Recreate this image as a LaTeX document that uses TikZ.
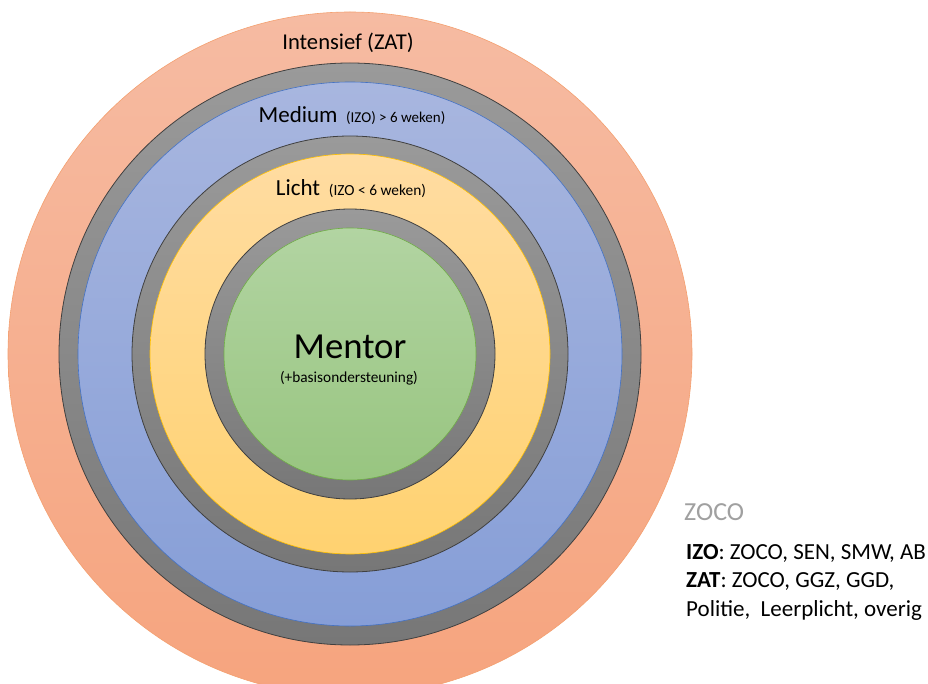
\documentclass[tikz,border=0pt]{standalone}
\usepackage{fontspec}
\setmainfont{Carlito}
\definecolor{orTop}{HTML}{F6BBA2}
\definecolor{orBot}{HTML}{F6A47E}
\definecolor{orLine}{HTML}{F4A070}
\definecolor{grTop}{HTML}{9A9A9A}
\definecolor{grBot}{HTML}{777777}
\definecolor{blTop}{HTML}{A8B6DF}
\definecolor{blBot}{HTML}{869ED7}
\definecolor{blLine}{HTML}{4472C4}
\definecolor{yeTop}{HTML}{FFDCA2}
\definecolor{yeBot}{HTML}{FFD270}
\definecolor{yeLine}{HTML}{FFC000}
\definecolor{gnTop}{HTML}{B2D4A2}
\definecolor{gnBot}{HTML}{98C580}
\definecolor{gnLine}{HTML}{70AD47}
\definecolor{zocoGray}{HTML}{A0A0A0}
\tikzset{
  disk/.style={circle, inner sep=0pt, outer sep=0pt, minimum size=#1},
  ring/.style={disk=#1, draw=black!75, line width=0.8pt, top color=grTop, bottom color=grBot},
  lbl/.style={inner sep=0pt, text=black},
}
\begin{document}
\begin{tikzpicture}[x=1pt,y=-1pt]
\useasboundingbox (0,0) rectangle (928,684);
\clip (0,0) rectangle (928,684);
\fill[white] (0,0) rectangle (928,684);
\coordinate (c) at (350,354);
\node[disk=684, draw=orLine, line width=0.6pt, top color=orTop, bottom color=orBot] (outer) at (c) {};
\node[ring=582] (ring1) at (c) {};
\node[disk=544, draw=blLine, line width=0.6pt, top color=blTop, bottom color=blBot] (medium) at (c) {};
\node[ring=436] (ring2) at (c) {};
\node[disk=400, draw=yeLine, line width=0.6pt, top color=yeTop, bottom color=yeBot] (licht) at (c) {};
\node[ring=290] (ring3) at (c) {};
\node[disk=252, draw=gnLine, line width=0.6pt, top color=gnTop, bottom color=gnBot] (mentor) at (c) {};

\node[lbl, font=\fontsize{22.6}{26}\selectfont] (tInt) at (348,43) {Intensief (ZAT)};
\node[lbl, font=\fontsize{23}{27}\selectfont] (tMed) at (352,116) {Medium {\fontsize{15}{18}\selectfont\ (IZO) > 6 weken)}};
\node[lbl, font=\fontsize{23}{27}\selectfont] (tLicht) at (351,189) {Licht {\fontsize{15.4}{18}\selectfont\ (IZO < 6 weken)}};
\node[lbl, font=\fontsize{36.7}{40}\selectfont] (tMentor) at (350,347) {Mentor};
\node[lbl, font=\fontsize{15.3}{18}\selectfont] (tBasis) at (349,378) {(+basisondersteuning)};

\node[lbl, anchor=west, text=zocoGray, font=\fontsize{26}{30}\selectfont] (tZoco) at (684,512) {ZOCO};
\node[lbl, anchor=west, font=\fontsize{23}{27}\selectfont] (tIzo) at (686,553) {\textbf{IZO}: ZOCO, SEN, SMW, AB};
\node[lbl, anchor=west, font=\fontsize{23}{27}\selectfont] (tZat) at (686,582) {\textbf{ZAT}: ZOCO, GGZ, GGD,};
\node[lbl, anchor=west, font=\fontsize{23}{27}\selectfont] (tPol) at (686,610) {Politie,\ \ Leerplicht, overig};
\end{tikzpicture}
\end{document}
